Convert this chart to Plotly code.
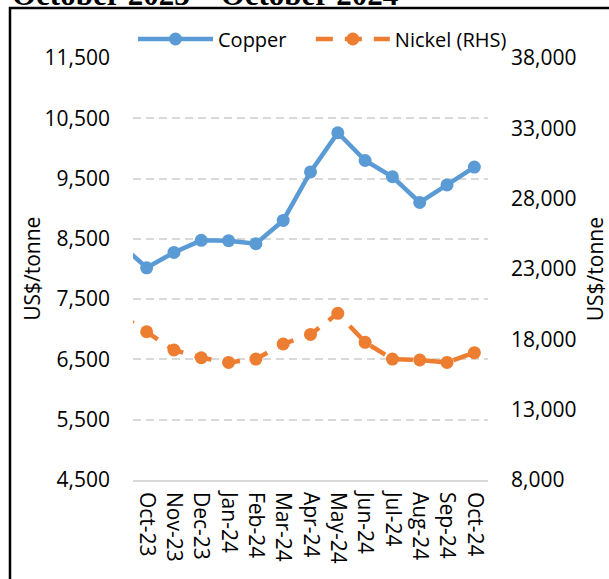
import plotly.graph_objects as go

# Monthly average prices, US$/tonne (Sep-23 sits just off the left edge)
months = ["Sep-23", "Oct-23", "Nov-23", "Dec-23", "Jan-24", "Feb-24", "Mar-24",
          "Apr-24", "May-24", "Jun-24", "Jul-24", "Aug-24", "Sep-24", "Oct-24"]
copper = [8430, 8020, 8275, 8475, 8470, 8420, 8805,
          9610, 10260, 9800, 9530, 9105, 9395, 9690]
nickel = [19800, 18540, 17240, 16690, 16360, 16600, 17670,
          18350, 19850, 17790, 16600, 16530, 16360, 17050]

FONT = "Open Sans"
BLUE = "#5B9BD5"
ORANGE = "#ED7D31"
GRID = "#D9D9D9"

fig = go.Figure()
fig.add_trace(go.Scatter(x=months, y=copper, name="Copper",
                         mode="lines+markers", legend="legend",
                         line=dict(color=BLUE, width=4.5),
                         marker=dict(color=BLUE, size=13)))
fig.add_trace(go.Scatter(x=months, y=nickel, name="Nickel (RHS)", yaxis="y2",
                         mode="lines+markers", legend="legend2",
                         line=dict(color=ORANGE, width=4.5, dash="17px,12px"),
                         marker=dict(color=ORANGE, size=13)))

legend_style = dict(orientation="h", xanchor="left", y=1.045, yanchor="middle",
                    font=dict(family=FONT, size=20, color="black"),
                    bgcolor="rgba(0,0,0,0)")

fig.update_layout(
    width=609, height=579,
    margin=dict(l=133, r=121, t=58, b=99),
    paper_bgcolor="white", plot_bgcolor="white",
    font=dict(family=FONT, size=20, color="black"),
    showlegend=True,
    legend=dict(legend_style, x=0.0, itemwidth=75),
    legend2=dict(legend_style, x=0.501, itemwidth=74),
    xaxis=dict(type="category", range=[0.5, 13.5], tickangle=90,
               showgrid=False, showline=True, linecolor=GRID, linewidth=1.5,
               ticks="", ticklabelstandoff=6,
               tickfont=dict(family=FONT, size=21, color="black")),
    yaxis=dict(range=[4500, 11500], tick0=4500, dtick=1000, tickformat=",",
               showgrid=True, gridcolor=GRID, gridwidth=1.5, griddash="8px,5px",
               zeroline=False, showline=False, ticks="", ticklabelstandoff=22,
               tickfont=dict(family=FONT, size=21, color="black")),
    yaxis2=dict(range=[8000, 38000], tick0=8000, dtick=5000, tickformat=",",
                overlaying="y", side="right", showgrid=False, zeroline=False,
                showline=False, ticks="", ticklabelstandoff=22,
                tickfont=dict(family=FONT, size=21, color="black")),
)

# axis titles
fig.add_annotation(text="US$/tonne", textangle=-90, showarrow=False,
                   xref="paper", yref="paper", x=-0.285, y=0.50,
                   xanchor="center", yanchor="middle",
                   font=dict(family=FONT, size=21, color="black"))
fig.add_annotation(text="US$/tonne", textangle=-90, showarrow=False,
                   xref="paper", yref="paper", x=1.302, y=0.50,
                   xanchor="center", yanchor="middle",
                   font=dict(family=FONT, size=21, color="black"))

# heading cut off at the top of the crop
fig.add_annotation(text="<b>October 2023 – October 2024</b>", showarrow=False,
                   xref="paper", yref="paper", x=-0.346, y=1.151,
                   xanchor="left", yanchor="middle",
                   font=dict(family="Liberation Serif", size=31, color="black"))

# frame around the chart
fig.add_shape(type="rect", xref="paper", yref="paper",
              x0=-0.3465, x1=1.36, y0=-0.26, y1=1.1185,
              line=dict(color="black", width=2.5), layer="above")

fig.write_html("out.html", config={"displayModeBar": False},
               post_script="document.body.style.margin='0px';")
